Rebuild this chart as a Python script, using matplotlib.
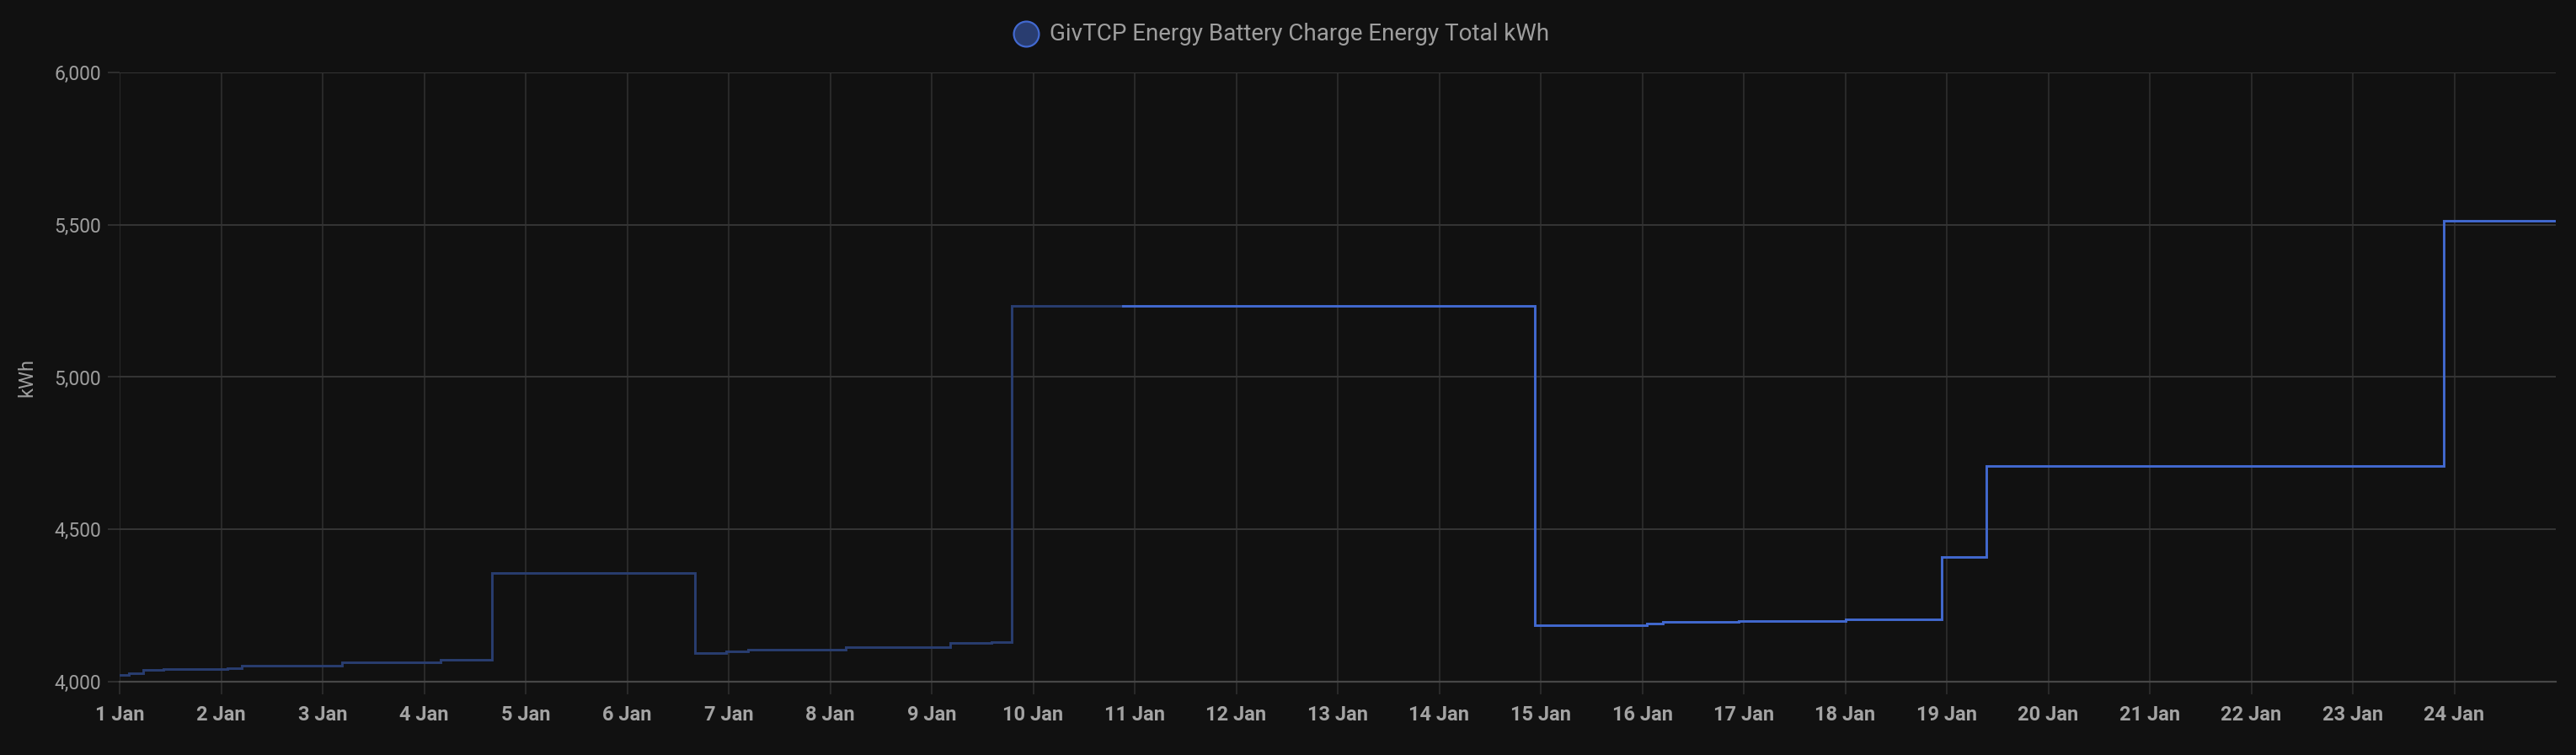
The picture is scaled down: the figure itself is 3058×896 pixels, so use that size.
"""
GivTCP battery charge energy total, Home Assistant style dark chart.
"""

from datetime import datetime

import matplotlib

matplotlib.use("Agg")

import matplotlib.dates as mdates
import matplotlib.pyplot as plt
from matplotlib.lines import Line2D
from matplotlib.ticker import FuncFormatter, MultipleLocator

# older part of the history (drawn faded)
old_times = [
    "2025-01-01 00:00", "2025-01-01 02:10", "2025-01-01 05:30",
    "2025-01-01 10:20", "2025-01-02 01:30", "2025-01-02 04:50",
    "2025-01-03 04:30", "2025-01-04 03:50", "2025-01-04 16:05",
    "2025-01-06 16:05", "2025-01-06 23:30", "2025-01-07 04:30",
    "2025-01-08 03:40", "2025-01-09 04:20", "2025-01-09 14:10",
    "2025-01-09 19:00", "2025-01-10 21:10",
]
old_values = [
    4023, 4027, 4039,
    4042, 4045, 4053,
    4064, 4073, 4357,
    4095, 4099, 4106,
    4114, 4126, 4131,
    5234, 5234,
]

# recent part of the history
new_times = [
    "2025-01-10 21:10", "2025-01-14 22:35", "2025-01-16 01:10",
    "2025-01-16 04:50", "2025-01-16 22:50", "2025-01-18 00:00",
    "2025-01-18 22:50", "2025-01-19 09:20", "2025-01-23 21:35",
    "2025-01-25 00:00",
]
new_values = [
    5234, 4185, 4190,
    4196, 4199, 4204,
    4409, 4708, 5514,
    5514,
]

series_name = "GivTCP Energy Battery Charge Energy Total kWh"
y_label = "kWh"

BG = "#111111"
LINE = "#4269d0"
FADED = "#293d70"
TEXT = "#9e9e9e"
GRID = "#2e2e2e"
AXIS = "#474747"

W, H = 3058, 896
DPI = 100


def parse(ts):
    return [datetime.strptime(t, "%Y-%m-%d %H:%M") for t in ts]


plt.rcParams["font.family"] = ["Roboto", "DejaVu Sans"]

fig = plt.figure(figsize=(W / DPI, H / DPI), dpi=DPI, facecolor=BG)
ax = fig.add_axes([142 / W, (H - 809) / H, (3034 - 142) / W, (809 - 86) / H])
ax.set_facecolor(BG)

ax.plot(parse(old_times), old_values, drawstyle="steps-post",
        color=FADED, lw=2.1, solid_joinstyle="miter", zorder=3)
ax.plot(parse(new_times), new_values, drawstyle="steps-post",
        color=LINE, lw=2.1, solid_joinstyle="miter", zorder=3)

ax.set_xlim(datetime(2025, 1, 1), datetime(2025, 1, 25))
ax.set_ylim(4000, 6000)

ax.xaxis.set_major_locator(mdates.DayLocator(bymonthday=range(1, 25)))
ax.xaxis.set_major_formatter(
    FuncFormatter(lambda v, _: f"{mdates.num2date(v).day} Jan"))
ax.yaxis.set_major_locator(MultipleLocator(500))
ax.yaxis.set_major_formatter(FuncFormatter(lambda v, _: f"{v:,.0f}"))

ax.grid(axis="x", color=GRID, lw=1.2)
ax.grid(axis="y", color="#353535", lw=1.4)
ax.set_axisbelow(True)

for side in ("top", "right", "left"):
    ax.spines[side].set_visible(False)
ax.spines["bottom"].set_color(AXIS)
ax.spines["bottom"].set_linewidth(1.6)

ax.tick_params(axis="x", length=11, width=1.2, color=GRID, pad=9,
               labelsize=17, labelcolor="#a3a3a3")
ax.tick_params(axis="y", length=10, width=1.2, color="#353535", pad=6,
               labelsize=16.5, labelcolor=TEXT)
for lbl in ax.get_xticklabels():
    lbl.set_fontweight(600)

fig.text(32 / W, 1 - 448 / H, y_label, color=TEXT, fontsize=17,
         rotation=90, ha="center", va="center")

# legend
fig.add_artist(Line2D([1218 / W], [1 - 40 / H], transform=fig.transFigure,
                      marker="o", markersize=21.5, markerfacecolor=FADED,
                      markeredgecolor=LINE, markeredgewidth=1.6, ls="none"))
fig.text(1246 / W, 1 - 41 / H, series_name, color=TEXT, fontsize=20,
         ha="left", va="center")

fig.savefig("out.png", dpi=DPI, facecolor=BG)
